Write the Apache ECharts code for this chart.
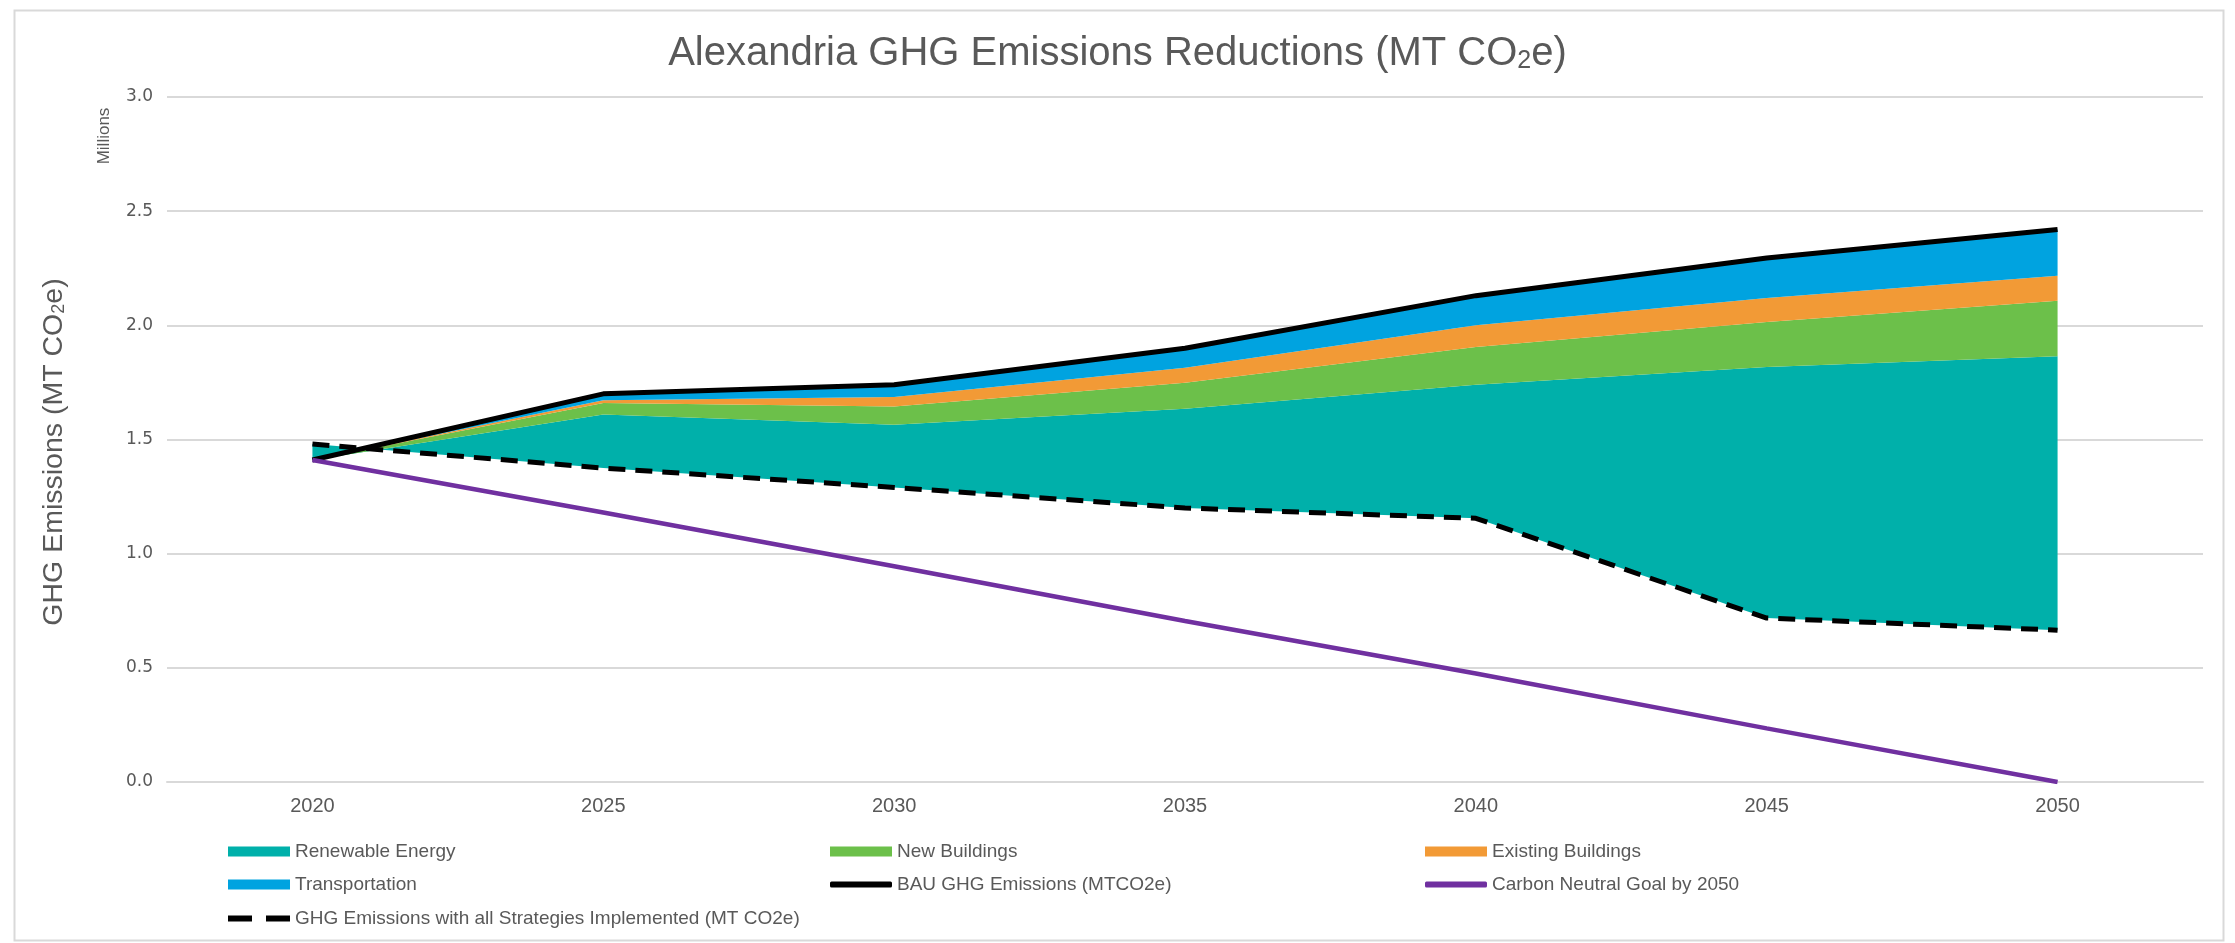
<!DOCTYPE html>
<html>
<head>
<meta charset="utf-8">
<script src="https://cdn.jsdelivr.net/npm/echarts@6/dist/echarts.min.js"></script>
<style>html,body{margin:0;padding:0;background:#fff;}#c{width:2235px;height:943px;}</style>
</head>
<body>
<div id="c"></div>
<script>
// Data (values in millions of MT CO2e)
var years = ['2020','2025','2030','2035','2040','2045','2050'];
var yTicks = [0, 0.5, 1.0, 1.5, 2.0, 2.5, 3.0];
var strategies = [1.48, 1.375, 1.29, 1.20, 1.155, 0.718, 0.665];
var renewable = [-0.07, 0.235, 0.275, 0.435, 0.585, 1.10, 1.20];
var newBuildings = [0, 0.05, 0.08, 0.114, 0.165, 0.197, 0.243];
var existingBuildings = [0, 0.012, 0.041, 0.065, 0.095, 0.105, 0.109];
var transportation = [0, 0.028, 0.054, 0.086, 0.13, 0.175, 0.203];
var bau = [1.41, 1.70, 1.74, 1.90, 2.13, 2.295, 2.42];
var carbonNeutral = [1.41, 1.18, 0.945, 0.705, 0.475, 0.235, 0.0];

var NARROW = '"Liberation Sans Narrow", "Liberation Sans", Arial, sans-serif';
var TXT = '#595959';

var chart = echarts.init(document.getElementById('c'), null, {renderer: 'canvas'});

function areaSeries(name, data, color) {
  return {
    name: name, type: 'line', stack: 'em', stackStrategy: 'all', data: data,
    symbol: 'none', color: color, lineStyle: {width: 0, color: color},
    areaStyle: {color: color, opacity: 1}, itemStyle: {color: color}, z: 2
  };
}

function legendItem(name, left, top, icon, h) {
  return {
    data: [{name: name, icon: icon}], left: left, top: top, itemWidth: 62, itemHeight: h,
    textStyle: {fontFamily: NARROW, fontSize: 19, color: TXT},
    itemGap: 0, selectedMode: false, padding: 0
  };
}

var DASH_ICON = 'path://M0,0H24V6H0Z M38,0H62V6H38Z';
var colX = [228, 830, 1425];
var rowY = [842, 875, 909];

var option = {
  animation: false,
  backgroundColor: '#fff',
  title: {
    text: '{a|Alexandria GHG Emissions Reductions (MT CO}{s|2}{a|e)}',
    left: 'center', top: 25,
    textStyle: {
      fontWeight: 'normal',
      rich: {
        a: {fontFamily: NARROW, fontSize: 40, fontWeight: 'normal', color: TXT, lineHeight: 48},
        s: {fontFamily: NARROW, fontSize: 25, fontWeight: 'normal', color: TXT, lineHeight: 48, padding: [15, 0, 0, 0]}
      }
    }
  },
  graphic: [
    {type: 'rect', left: 12, top: 8, shape: {width: 2209, height: 930}, style: {fill: 'none', stroke: '#d9d9d9', lineWidth: 2}, silent: true},
    {type: 'text', x: 104, y: 136, rotation: Math.PI / 2, style: {text: 'Millions', fontFamily: NARROW, fontSize: 17, fill: TXT, align: 'center', verticalAlign: 'middle'}},
    {type: 'text', x: 54, y: 452, rotation: Math.PI / 2, style: {
      text: '{a|GHG Emissions (MT CO}{s|2}{a|e)}', align: 'center', verticalAlign: 'middle',
      rich: {
        a: {fontFamily: NARROW, fontSize: 28.5, fill: TXT, lineHeight: 34},
        s: {fontFamily: NARROW, fontSize: 18, fill: TXT, lineHeight: 34, padding: [11, 0, 0, 0]}
      }
    }}
  ],
  legend: [
    legendItem('Renewable Energy', colX[0], rowY[0], 'rect', 10),
    legendItem('New Buildings', colX[1], rowY[0], 'rect', 10),
    legendItem('Existing Buildings', colX[2], rowY[0], 'rect', 10),
    legendItem('Transportation', colX[0], rowY[1], 'rect', 10),
    legendItem('BAU GHG Emissions (MTCO2e)', colX[1], rowY[1], 'roundRect', 6),
    legendItem('Carbon Neutral Goal by 2050', colX[2], rowY[1], 'roundRect', 6),
    legendItem('GHG Emissions with all Strategies Implemented (MT CO2e)', colX[0], rowY[2], DASH_ICON, 6)
  ],
  grid: {left: 167, right: 32, top: 97, bottom: 161, containLabel: false},
  xAxis: {
    type: 'category', data: years, boundaryGap: true,
    axisLine: {lineStyle: {color: '#d9d9d9', width: 2}},
    axisTick: {show: false},
    axisLabel: {fontFamily: NARROW, fontSize: 20, color: TXT, margin: 14}
  },
  yAxis: {
    type: 'value', min: yTicks[0], max: yTicks[yTicks.length - 1], interval: 0.5,
    axisLine: {show: false}, axisTick: {show: false},
    splitLine: {lineStyle: {color: '#d9d9d9', width: 2}},
    axisLabel: {fontFamily: '"DejaVu Sans", sans-serif', fontSize: 17, color: TXT, margin: 14,
      formatter: function (v) { return v.toFixed(1); }}
  },
  series: [
    {name: 'base', type: 'line', stack: 'em', stackStrategy: 'all', data: strategies, symbol: 'none',
      lineStyle: {width: 0, opacity: 0}, silent: true, z: 1},
    areaSeries('Renewable Energy', renewable, '#00B0AA'),
    areaSeries('New Buildings', newBuildings, '#6CC04A'),
    areaSeries('Existing Buildings', existingBuildings, '#F29A36'),
    areaSeries('Transportation', transportation, '#00A3E0'),
    {name: 'BAU GHG Emissions (MTCO2e)', type: 'line', data: bau, symbol: 'none', color: '#000',
      lineStyle: {width: 5, color: '#000'}, z: 5},
    {name: 'Carbon Neutral Goal by 2050', type: 'line', data: carbonNeutral, symbol: 'none', color: '#7030A0',
      lineStyle: {width: 4.5, color: '#7030A0'}, z: 5},
    {name: 'GHG Emissions with all Strategies Implemented (MT CO2e)', type: 'line', data: strategies, symbol: 'none', color: '#000',
      lineStyle: {width: 5, color: '#000', type: [17, 10]}, z: 6}
  ]
};
chart.setOption(option);
</script>
</body>
</html>
